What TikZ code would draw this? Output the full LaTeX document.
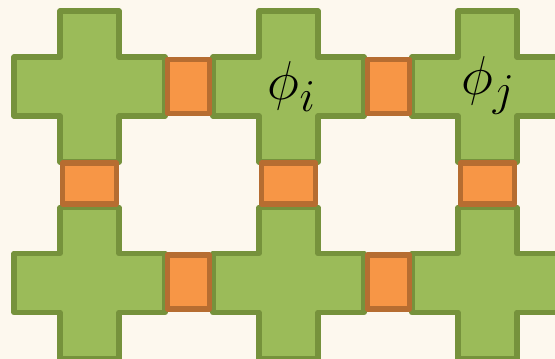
\documentclass[tikz,border=0pt]{standalone}
\definecolor{bg}{HTML}{FDF8EE}
\definecolor{gfill}{HTML}{9BBB59}
\definecolor{gline}{HTML}{76923C}
\definecolor{ofill}{HTML}{F79646}
\definecolor{oline}{HTML}{B66D31}
\newcommand\biglabel[1]{\scalebox{2.2}{\Huge$#1$}}
\tikzset{
  crossshape/.style={fill=gfill, draw=gline, line width=5.5pt, line join=round},
  joint/.style={fill=ofill, draw=oline, line width=5.5pt, line join=round},
  label/.style={inner sep=0pt},
  pics/plus/.style={code={
    \draw[crossshape] (-29.5,-75.5) -- (29.5,-75.5) -- (29.5,-29.5) -- (75.5,-29.5)
      -- (75.5,29.5) -- (29.5,29.5) -- (29.5,75.5) -- (-29.5,75.5) -- (-29.5,29.5)
      -- (-75.5,29.5) -- (-75.5,-29.5) -- (-29.5,-29.5) -- cycle;
  }},
  pics/hjoint/.style={code={\draw[joint] (-21,-27) rectangle (21,27);}},
  pics/vjoint/.style={code={\draw[joint] (-27,-20.5) rectangle (27,20.5);}},
}
\begin{document}
\begin{tikzpicture}[x=1pt,y=-1pt]
  \useasboundingbox (0,0) rectangle (555,359);
  \fill[bg] (0,0) rectangle (555,359);
  \clip (0,0) rectangle (555,359);
  % crosses
  \foreach \cx in {89.5,288.5,487.5}{
    \pic at (\cx,86.5) {plus};
    \pic at (\cx,283) {plus};
  }
  % horizontal joints
  \foreach \jx in {188.5,388.5}{
    \pic at (\jx,86.5) {hjoint};
    \pic at (\jx,282) {hjoint};
  }
  % vertical joints
  \foreach \cx in {89.5,288.5,487.5}{
    \pic at (\cx,183.5) {vjoint};
  }
  \node[label] (phii) at (292,86.5) {\biglabel{\phi_i}};
  \node[label] (phij) at (488,85.5) {\biglabel{\phi_j}};
\end{tikzpicture}
\end{document}
